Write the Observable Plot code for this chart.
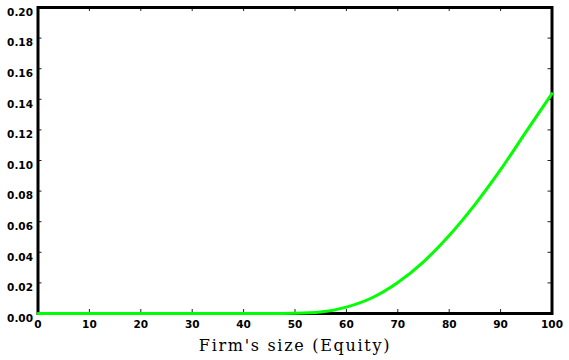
<!DOCTYPE html>
<html>
<head>
<meta charset="utf-8">
<script src="https://cdn.jsdelivr.net/npm/d3@7"></script>
<script src="https://cdn.jsdelivr.net/npm/@observablehq/plot@0.6"></script>
<style>
  html, body { margin: 0; padding: 0; background: #fff; }
</style>
</head>
<body>
<div id="chart"></div>
<script>
// Data
const equity = [0, 5, 10, 15, 20, 25, 30, 35, 40, 45, 50, 55, 60, 65, 70, 75, 80, 85, 90, 95, 100];
const prob   = [0, 0, 0, 0, 0, 0, 0, 0, 0, 0, 0.0002, 0.001, 0.0042, 0.0103, 0.0203, 0.0338, 0.051, 0.0712, 0.094, 0.119, 0.1437];
const xTicks = [0, 10, 20, 30, 40, 50, 60, 70, 80, 90, 100];
const yTicks = [0, 0.02, 0.04, 0.06, 0.08, 0.10, 0.12, 0.14, 0.16, 0.18, 0.20];
const xLabel = "Firm's size (Equity)";

const data = equity.map((x, i) => ({x, y: prob[i]}));

const W = 569, H = 360;
const mL = 37.5, mR = 17.5, mT = 7, mB = 47;
const fW = W - mL - mR, fH = H - mT - mB;
const tick = 4;
const tickFont = {fontFamily: "DejaVu Sans", fontWeight: "bold", fontSize: 10.5};

const chart = Plot.plot({
  width: W,
  height: H,
  marginLeft: mL,
  marginRight: mR,
  marginTop: mT,
  marginBottom: mB,
  style: {background: "#fff", color: "#000"},
  x: {domain: [0, 100]},
  y: {domain: [0, 0.2]},
  marks: [
    // inward ticks on all four sides
    Plot.ruleX(xTicks, {stroke: "#222", insetTop: fH - tick}),
    Plot.ruleX(xTicks, {stroke: "#222", insetBottom: fH - tick}),
    Plot.ruleY(yTicks, {stroke: "#222", insetRight: fW - tick}),
    Plot.ruleY(yTicks, {stroke: "#222", insetLeft: fW - tick}),
    Plot.axisX(xTicks, {tickSize: 0, tickPadding: 7, label: null, tickFormat: d => String(d), ...tickFont}),
    Plot.axisY(yTicks, {tickSize: 0, tickPadding: 5, dy: 5, label: null, tickFormat: d3.format(".2f"), ...tickFont}),
    Plot.frame({stroke: "#000", strokeWidth: 3}),
    Plot.line(data, {x: "x", y: "y", stroke: "#00ff00", strokeWidth: 3, curve: "monotone-x"}),
    Plot.text([xLabel], {frameAnchor: "bottom", dy: 37, fontFamily: "DejaVu Serif", fontSize: 16, fill: "#000"})
  ]
});
d3.select(chart).selectAll("text")
  .filter(function () { return this.textContent === xLabel; })
  .attr("letter-spacing", "1.7px");
document.getElementById("chart").appendChild(chart);
</script>
</body>
</html>
